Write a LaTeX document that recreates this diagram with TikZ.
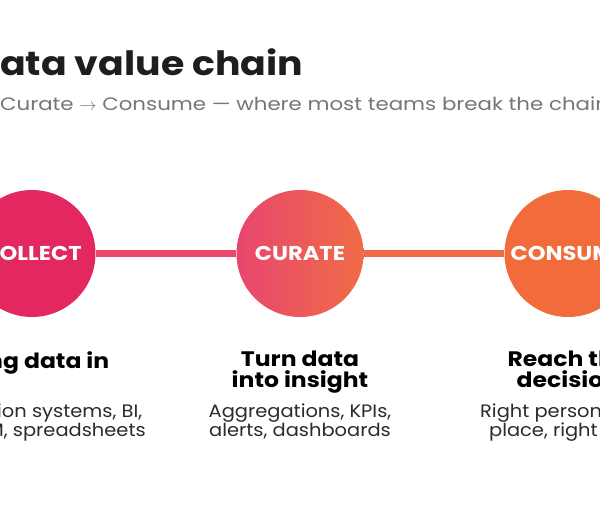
\documentclass[tikz,border=0pt]{standalone}
\usepackage{fontspec}
\setmainfont{Poppins}
\newfontfamily\titlefont[FakeStretch=1.13]{Poppins}
\newfontfamily\subfont[FakeStretch=1.185]{Poppins}
\newfontfamily\stagefont[FakeStretch=1.13]{Poppins}
\newfontfamily\headfont[FakeStretch=1.12]{Poppins}
\newfontfamily\bodyfont[FakeStretch=1.08]{Poppins}
\definecolor{crimson}{HTML}{E2285E}
\definecolor{pinkc}{HTML}{E8466E}
\definecolor{orangec}{HTML}{F06C46}
\definecolor{orangedeep}{HTML}{F26B3A}
\definecolor{linkA}{HTML}{E9476C}
\definecolor{linkB}{HTML}{F06A47}
\definecolor{titlec}{HTML}{1E1E1E}
\definecolor{subc}{HTML}{767676}
\definecolor{bodyc}{HTML}{2B2B2B}
\begin{document}
\begin{tikzpicture}[x=1pt,y=-1pt,
  stage/.style={circle, minimum size=127pt, inner sep=0pt, text=white,
    font=\stagefont\fontsize{20}{22}\selectfont\bfseries},
  link/.style={line width=7pt},
  head/.style={anchor=north, inner sep=0pt, align=center, text=black,
    font=\headfont\fontsize{21}{21}\selectfont\bfseries},
  body/.style={anchor=north, inner sep=0pt, align=center, text=bodyc,
    font=\bodyfont\fontsize{18}{19}\selectfont}]
\useasboundingbox (0,0) rectangle (600,512);
\clip (0,0) rectangle (600,512);
\fill[white] (0,0) rectangle (600,512);

\node[anchor=base west, inner sep=0pt, text=titlec,
  font=\titlefont\fontsize{33.5}{36}\selectfont\bfseries] (title) at (0,75)
  {\llap{The d}ata value chain};
\node[anchor=base west, inner sep=0pt, text=subc,
  font=\subfont\fontsize{18}{20}\selectfont] (subtitle) at (0,110)
  {\llap{Collect $\rightarrow$ }Curate $\rightarrow$ Consume — where most teams break the chain};

\node[stage, fill=crimson] (collect) at (32,253.5) {COLLECT};
\node[stage, left color=pinkc, right color=orangec] (curate) at (300,253.5) {CURATE};
\node[stage, fill=orangedeep] (consume) at (568,253.5) {CONSUME};

\draw[link, linkA] (collect.east) -- (curate.west);
\draw[link, linkB] (curate.east) -- (consume.west);

\node[head] (h1) at (32,351) {Bring data in};
\node[head] (h2) at (300,351) {Turn data\\into insight};
\node[head] (h3) at (568,351) {Reach the\\decision};

\node[body] (b1) at (32,404) {Production systems, BI,\\ERP, CRM, spreadsheets};
\node[body] (b2) at (300,404) {Aggregations, KPIs,\\alerts, dashboards};
\node[body] (b3) at (568,404) {Right person, right\\place, right time};
\end{tikzpicture}
\end{document}
